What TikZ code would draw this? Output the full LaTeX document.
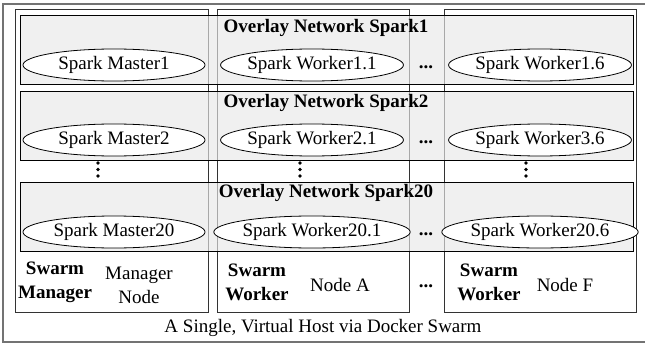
\documentclass[tikz,border=0pt]{standalone}
\usepackage{fontspec}
\setmainfont{Liberation Serif}
\usepackage{tikz}
\usetikzlibrary{shapes.geometric,positioning}

\begin{document}
\begin{tikzpicture}[x=1pt,y=-1pt]
\tikzstyle{host}=[draw=black!55,line width=1.4pt]
\tikzstyle{machine}=[draw=black!80,line width=0.9pt]
\tikzstyle{overlay}=[draw=black,line width=0.9pt,fill=black!9,fill opacity=0.65]
\tikzstyle{every node}=[font=\fontsize{19}{24}\selectfont,inner sep=0pt]
\tikzstyle{spark}=[ellipse,draw,line width=0.8pt,fill=white,minimum width=182pt,minimum height=32pt]
\tikzstyle{title}=[font=\fontsize{19}{24}\selectfont\bfseries]
\tikzstyle{role}=[font=\fontsize{19}{24}\selectfont\bfseries,align=center]
\tikzstyle{label}=[align=center]
\useasboundingbox (0,0) rectangle (645,345);
% host and swarm nodes
\draw[host] (3,4) rectangle (647,342);
\draw[machine] (15,9) rectangle (208,312);
\draw[machine] (217,9) rectangle (409,312);
\draw[machine] (444,9) rectangle (636,312);
% overlay networks
\draw[overlay] (20,15) rectangle (633,84);
\draw[overlay] (20,91) rectangle (633,160);
\draw[overlay] (20,182) rectangle (633,251);
\node[title] (net1) at (326,28) {Overlay Network Spark1};
\node[title] (net2) at (326,103) {Overlay Network Spark2};
\node[title] (net20) at (326,193) {Overlay Network Spark20};
% spark containers
\node[spark] (m1) at (114,65) {Spark Master1};
\node[spark] (w11) at (312,65) {Spark Worker1.1};
\node[spark] (w16) at (540,65) {Spark Worker1.6};
\node[spark] (m2) at (114,140) {Spark Master2};
\node[spark] (w21) at (312,140) {Spark Worker2.1};
\node[spark] (w36) at (540,140) {Spark Worker3.6};
\node[spark] (m20) at (114,232) {Spark Master20};
\node[spark] (w201) at (312,232) {Spark Worker20.1};
\node[spark] (w206) at (540,232) {Spark Worker20.6};
% dots
\foreach \y/\n in {67/d1,142/d2,234/d20,286/dn}
  \node (\n) at (426,\y) {\textbf{...}};
\foreach \x in {98,300,526}
  \foreach \y in {163,169.5,176}
    \fill (\x,\y) circle (1.8pt);
% swarm roles
\node[role] (mgr) at (55,282) {Swarm\\Manager};
\node[label] (mgrnode) at (139,285) {Manager\\Node};
\node[role] (wa) at (257,282) {Swarm\\Worker};
\node[label] (nodea) at (340,285) {Node A};
\node[role] (wf) at (489,282) {Swarm\\Worker};
\node[label] (nodef) at (565,285) {Node F};
\node (hostlbl) at (323,328) {A Single, Virtual Host via Docker Swarm};
\end{tikzpicture}
\end{document}
